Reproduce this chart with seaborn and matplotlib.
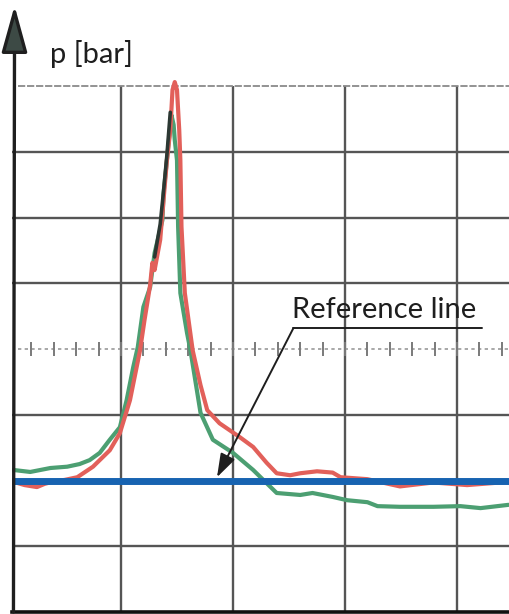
import numpy as np
import pandas as pd
import matplotlib.pyplot as plt
import seaborn as sns

# x in horizontal grid divisions, y in vertical grid divisions (p [bar], no scale shown)
green_x = [0.04, 0.19, 0.37, 0.52, 0.63, 0.72, 0.81, 0.90, 0.99, 1.05, 1.11, 1.15, 1.20, 1.26,
           1.30, 1.37, 1.38, 1.41, 1.45, 1.47, 1.48, 1.50, 1.51, 1.53, 1.59, 1.62, 1.71, 1.82,
           2.00, 2.18, 2.30, 2.39, 2.60, 2.71, 2.89, 3.02, 3.20, 3.29, 3.49, 3.79, 4.03, 4.21, 4.46]
green_y = [2.16, 2.13, 2.19, 2.21, 2.25, 2.31, 2.42, 2.62, 2.81, 3.22, 3.73, 4.03, 4.64, 4.94,
           5.46, 5.96, 6.37, 6.87, 7.56, 7.41, 7.18, 6.87, 5.86, 4.85, 4.24, 3.98, 3.03, 2.62,
           2.42, 2.16, 1.96, 1.81, 1.78, 1.81, 1.75, 1.70, 1.67, 1.61, 1.60, 1.60, 1.61, 1.58, 1.63]

red_x = [0.04, 0.14, 0.25, 0.32, 0.39, 0.50, 0.61, 0.75, 0.90, 0.99, 1.08, 1.17, 1.21, 1.26,
         1.28, 1.30, 1.35, 1.38, 1.41, 1.44, 1.46, 1.48, 1.50, 1.52, 1.53, 1.54, 1.57, 1.64,
         1.71, 1.77, 1.88, 2.06, 2.18, 2.30, 2.39, 2.51, 2.60, 2.75, 2.89, 2.96, 3.20, 3.49,
         3.79, 4.09, 4.46]
red_y = [1.98, 1.93, 1.90, 1.95, 1.98, 2.01, 2.05, 2.21, 2.46, 2.72, 3.22, 3.98, 4.44, 4.97,
         5.31, 5.20, 5.66, 6.27, 6.87, 7.33, 7.94, 8.06, 7.94, 7.33, 6.87, 5.86, 4.85, 3.98,
         3.45, 3.07, 2.87, 2.66, 2.51, 2.27, 2.11, 2.08, 2.11, 2.14, 2.12, 2.05, 2.02, 1.91,
         1.97, 1.93, 1.98]

dark_x = [1.30, 1.35, 1.38, 1.41, 1.44]
dark_y = [5.40, 5.90, 6.40, 6.95, 7.60]

ref_level = 2.0
grid_x = [1, 2, 3, 4]
grid_y = [1, 2, 3, 5, 6, 7]
dotted_y = 4
top_y = 8

sns.set_theme(style="white")
plt.rcParams['font.family'] = ['Lato', 'DejaVu Sans']

fig = plt.figure(figsize=(5.09, 6.14), dpi=100)
ax = fig.add_axes([12 / 509, 2 / 614, 497 / 509, 612 / 614])
ax.set_xlim(0.027, 4.464)
ax.set_ylim(0, 612 / 65.75)

# grid
ax.vlines(grid_x, 0, top_y, color="#555555", lw=1.7, zorder=1)
ax.hlines(grid_y, 0.03, 4.47, color="#555555", lw=1.7, zorder=1)
ax.hlines(top_y, 0.08, 4.47, color="#8a8a8a", lw=1.3, ls=(0, (4, 1)), zorder=1)
ax.hlines(dotted_y, 0.08, 4.47, color="#9a9a9a", lw=1.2, ls=(0, (2, 2)), zorder=1)
minor = np.arange(0.2, 4.46, 0.2)
ax.plot(minor, np.full_like(minor, dotted_y), ls="none", marker="|", ms=10, mew=1.4,
        color="#7a7a7a", zorder=1)

df = pd.concat([
    pd.DataFrame({"t": green_x, "p": green_y, "trace": "green"}),
    pd.DataFrame({"t": red_x, "p": red_y, "trace": "red"}),
])
sns.lineplot(data=df, x="t", y="p", hue="trace", estimator=None, sort=False,
             palette={"green": "#4c9f72", "red": "#e2605a"}, lw=3, legend=False, ax=ax,
             zorder=3)
sns.lineplot(x=dark_x, y=dark_y, estimator=None, sort=False, color="#2c3833", lw=2.6, ax=ax,
             zorder=4)

ax.axhline(ref_level, color="#1763b1", lw=5, zorder=5)

# axes decoration
for s in ["top", "right", "left"]:
    ax.spines[s].set_visible(False)
ax.spines["bottom"].set_color("#111111")
ax.spines["bottom"].set_linewidth(2.6)
ax.set_xticks([])
ax.set_yticks([])
ax.set_xlabel("")
ax.set_ylabel("")

ax.annotate("", xy=(0.05, 9.22), xytext=(0.04, 0), xycoords="data",
            arrowprops=dict(arrowstyle="-|>,head_length=1.45,head_width=0.4", mutation_scale=20,
                            lw=2.4, color="#1f1f1f", fc="#3d4a45", shrinkA=0, shrinkB=0),
            zorder=6)
ax.text(0.366, 8.35, "p [bar]", fontsize=21, color="#1e1e1e", ha="left", va="baseline")

ax.text(2.53, 4.47, "Reference line", fontsize=21, color="#1e1e1e", ha="left", va="baseline",
        zorder=7)
ax.plot([2.54, 4.22], [4.32, 4.32], color="#1e1e1e", lw=1.4, zorder=7)
ax.annotate("", xy=(1.857, 2.05), xytext=(2.54, 4.32),
            arrowprops=dict(arrowstyle="-|>,head_length=0.9,head_width=0.3", mutation_scale=16,
                            lw=1.4, color="#1e1e1e", shrinkA=0, shrinkB=0), zorder=7)

fig.savefig("out.png", dpi=100)
plt.close(fig)
